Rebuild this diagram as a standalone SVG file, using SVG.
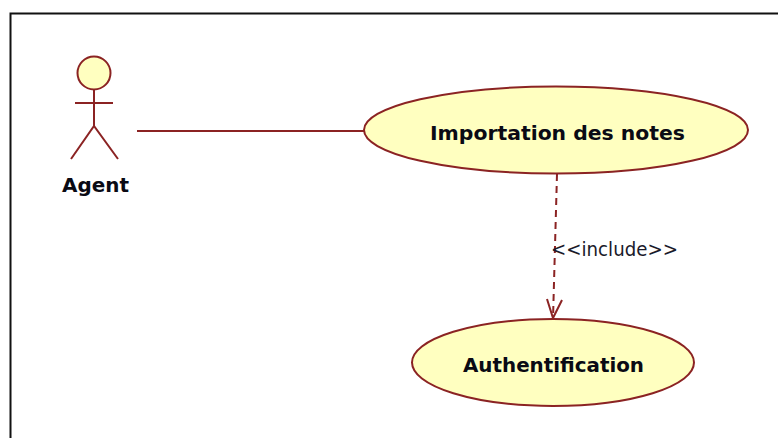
<svg xmlns="http://www.w3.org/2000/svg" width="778" height="438" viewBox="0 0 778 438">
<style>
.line{stroke:#8b2323;stroke-width:2;fill:none}
.uc{fill:#ffffc0;stroke:#8b2323;stroke-width:2}
.name{font-family:"DejaVu Sans",Verdana,sans-serif;font-weight:700;font-size:20px;fill:#0a0a14;text-anchor:middle}
</style>
<rect width="778" height="438" fill="#fff"/>
<path d="M10.500 438V13.500H778" fill="none" stroke="#111" stroke-width="2"/>
<g id="connectors">
<path class="line" d="M137 131H364"/>
<path class="line" stroke-dasharray="7 5" d="M557 174L553 319"/>
<path class="line" d="M547 299L553 318L562 300"/>
<text x="551" y="256" textLength="127" lengthAdjust="spacingAndGlyphs" font-family="'DejaVu Sans',Verdana,sans-serif" font-size="20" fill="#1a1a2a">&lt;&lt;include&gt;&gt;</text>
</g>
<g id="agent">
<circle class="uc" cx="94" cy="73" r="16.500"/>
<path class="line" d="M94 89.500V126M75 103H113M71 159L94 126L118 159"/>
<text class="name" x="95.500" y="192" textLength="67" lengthAdjust="spacingAndGlyphs">Agent</text>
</g>
<g id="importation">
<ellipse class="uc" cx="556" cy="130" rx="192" ry="43.500"/>
<text class="name" x="557.500" y="140" textLength="255" lengthAdjust="spacingAndGlyphs">Importation des notes</text>
</g>
<g id="authentification">
<ellipse class="uc" cx="553" cy="362.500" rx="141" ry="43.500"/>
<text class="name" x="553.500" y="372" textLength="181" lengthAdjust="spacingAndGlyphs">Authentification</text>
</g>
</svg>
